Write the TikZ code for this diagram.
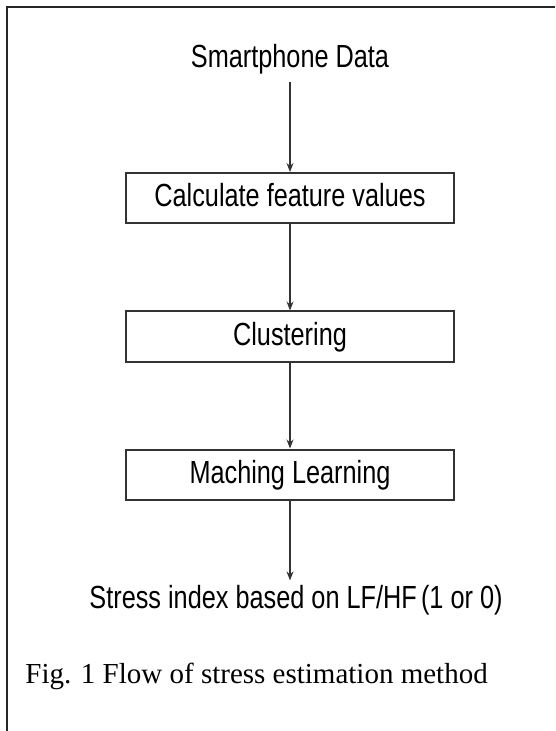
\documentclass[tikz,border=0pt]{standalone}
\usepackage{fontspec}
\setmainfont{Liberation Serif}
\newfontfamily\flowfont{Liberation Sans}
\usepackage{graphicx}
\usetikzlibrary{positioning, arrows.meta}
\newcommand{\narrowtxt}[1]{\scalebox{0.79}[1]{#1}}

\begin{document}
\begin{tikzpicture}[x=0.5pt, y=-0.5pt, >={Stealth[length=4.5pt, width=3.5pt]},
  procbox/.style={draw=black!80, line width=1pt, minimum width=164pt, minimum height=25pt,
    inner sep=0pt, font=\flowfont\fontsize{16}{19}\selectfont, text height=11.5pt, text depth=3pt},
  plain/.style={font=\flowfont\fontsize{16}{19}\selectfont},
  flow/.style={->, draw=black!80, line width=0.6pt}]

  \useasboundingbox (0,0) rectangle (555,731);

  % Frame
  \draw[line width=1pt, black!85] (7,731) -- (7,7) -- (555,7);

  % Steps
  \node[plain, anchor=base] (data) at (290,68) {\narrowtxt{Smartphone Data}};
  \node[procbox] (feat) at (290,198) {\narrowtxt{Calculate feature values}};
  \node[procbox] (clus) at (290,336.5) {\narrowtxt{Clustering}};
  \node[procbox] (learn) at (290,474.5) {\narrowtxt{Maching Learning}};
  \node[plain, anchor=base, inner sep=2pt] (stress) at (296,608) {\narrowtxt{Stress index based on LF/HF\,(1 or 0)}};

  % Caption
  \node[font=\fontsize{14.5}{17}\selectfont, anchor=base west, inner sep=0pt] (caption) at (25,683)
    {Fig. 1 Flow of stress estimation method};

  % Arrows
  \draw[flow] (data) -- (feat);
  \draw[flow] (feat) -- (clus);
  \draw[flow] (clus) -- (learn);
  \draw[flow] (learn.south) -- (learn.south |- stress.north);

\end{tikzpicture}
\end{document}
